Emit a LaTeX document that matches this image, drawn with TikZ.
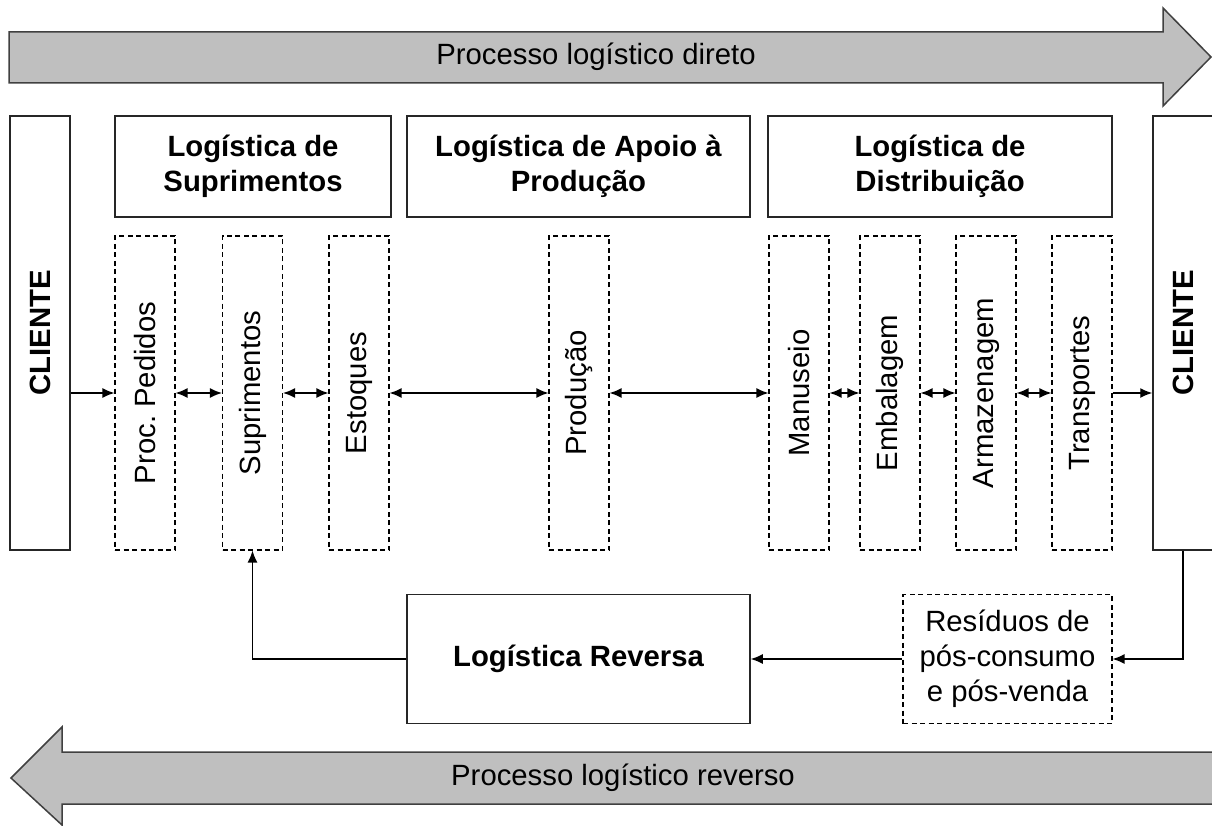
\documentclass[tikz,border=0pt]{standalone}
\usepackage{fontspec}
\setmainfont{Liberation Sans}
\usetikzlibrary{arrows.meta}
\frenchspacing
\begin{document}
\begin{tikzpicture}[x=1pt,y=-1pt,
  every node/.style={font=\fontsize{29.3}{35}\selectfont, inner sep=0pt},
  solidbox/.style={draw=black!85, line width=1.5pt, fill=white},
  dashbox/.style={draw=black, line width=1.1pt, dash pattern=on 5pt off 3.5pt},
  boldtext/.style={font=\fontsize{29.3}{35}\selectfont\bfseries, align=center},
  plaintext/.style={align=center},
  vlabel/.style={rotate=90},
  flowarrow/.style={draw=black!75, line width=1.5pt, fill=black!25},
  tip/.style={},
  link/.style={draw=black, line width=1.4pt, -{Latex[length=12pt,width=10pt]}},
  dlink/.style={draw=black, line width=1.4pt, {Latex[length=12pt,width=10pt]}-{Latex[length=12pt,width=10pt]}},
]
\useasboundingbox (0,0) rectangle (1212,826);

% broad process arrows
\draw[flowarrow] (9,32) -- (1163,32) -- (1163,8) -- (1211,57) -- (1163,106) -- (1163,83) -- (9,83) -- cycle;
\node (direto) at (596,57) {Processo logístico direto};
\draw[flowarrow] (1216,752) -- (62,752) -- (62,727) -- (11,778) -- (62,825) -- (62,804) -- (1216,804);
\node (reverso) at (623,778) {Processo logístico reverso};

% customers
\node[solidbox, minimum width=60pt, minimum height=434pt] (clienteL) at (40,333) {};
\node[vlabel, font=\fontsize{29.3}{35}\selectfont\bfseries] (clienteLtxt) at (clienteL) {CLIENTE};
\node[solidbox, minimum width=60pt, minimum height=434pt] (clienteR) at (1183,333) {};
\node[vlabel, font=\fontsize{29.3}{35}\selectfont\bfseries] (clienteRtxt) at (clienteR) {CLIENTE};

% area headers
\node[solidbox, boldtext, minimum width=276pt, minimum height=101pt] (supri) at (253,166.5) {Logística de\\Suprimentos};
\node[solidbox, boldtext, minimum width=343pt, minimum height=101pt] (apoio) at (578.5,166.5) {Logística de Apoio à\\Produção};
\node[solidbox, boldtext, minimum width=344pt, minimum height=101pt] (distr) at (940,166.5) {Logística de\\Distribuição};

% activities
\foreach \name/\cx/\txt in {proc/145/Proc. Pedidos, supr/252.5/Suprimentos, est/359/Estoques,
    prod/579/Produção, man/799/Manuseio, emb/890/Embalagem, arm/986/Armazenagem, trans/1082/Transportes}{
  \node[dashbox, minimum width=60pt, minimum height=314pt] (\name) at (\cx,393) {};
  \node[vlabel] (\name txt) at (\name) {\txt};
}

% flow between activities
\draw[link] (clienteL.east |- proc.west) -- (proc.west);
\draw[dlink] (proc.east) -- (supr.west);
\draw[dlink] (supr.east) -- (est.west);
\draw[dlink] (est.east) -- (prod.west);
\draw[dlink] (prod.east) -- (man.west);
\draw[dlink] (man.east) -- (emb.west);
\draw[dlink] (emb.east) -- (arm.west);
\draw[dlink] (arm.east) -- (trans.west);
\draw[link] (trans.east) -- (trans.east -| clienteR.west);

% reverse loop
\node[solidbox, boldtext, minimum width=343pt, minimum height=129pt] (rev) at (578.5,659) {Logística Reversa};
\node[dashbox, plaintext, minimum width=209pt, minimum height=129pt] (resid) at (1007.5,659) {Resíduos de\\pós-consumo\\e pós-venda};

\draw[link] (clienteR.south) |- (resid.east);
\draw[link] (resid.west) -- (rev.east);
\draw[link] (rev.west) -| (supr.south);
\end{tikzpicture}
\end{document}
